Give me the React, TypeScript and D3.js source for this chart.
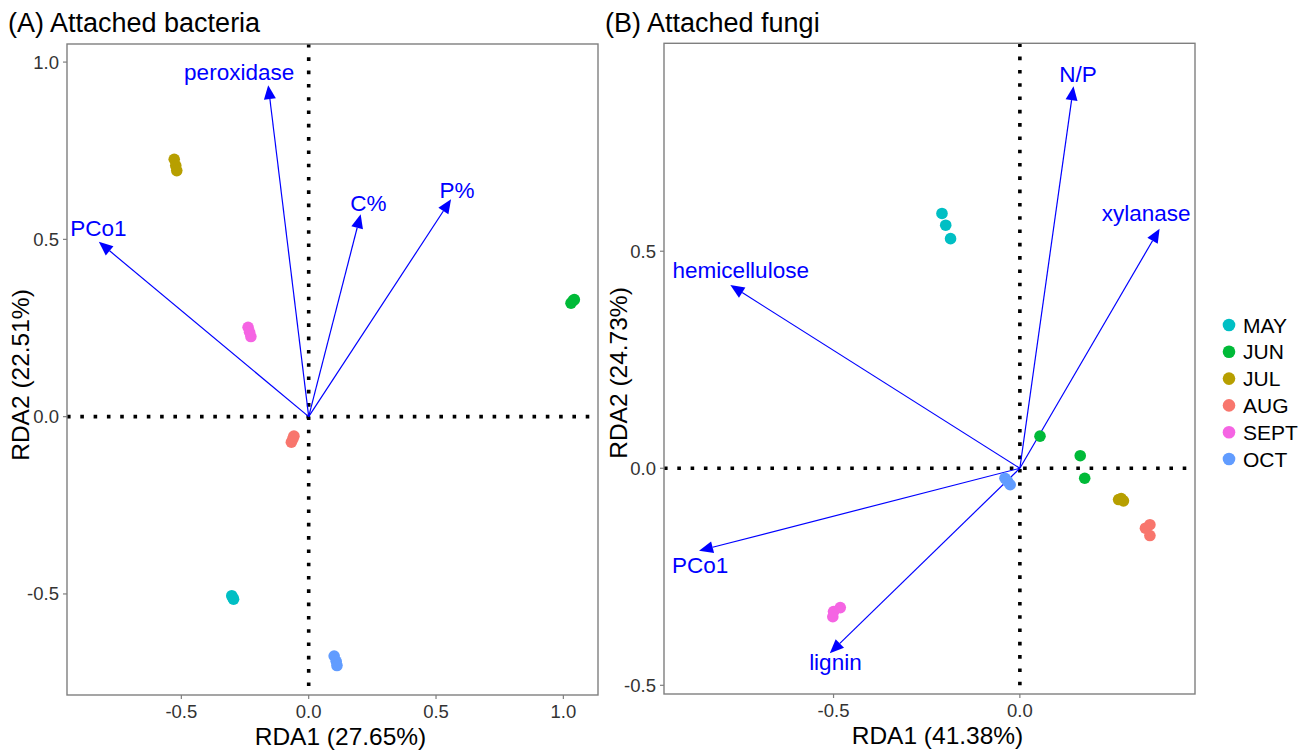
import * as d3 from "d3";

const months = ["MAY", "JUN", "JUL", "AUG", "SEPT", "OCT"];
const monthColors = ["#00BFC4", "#00BA38", "#B79F00", "#F8766D", "#F564E3", "#619CFF"];

// (A) attached bacteria – site scores
const bacMonth = ["MAY", "MAY", "MAY", "JUN", "JUN", "JUN", "JUL", "JUL", "JUL", "AUG", "AUG", "AUG", "SEPT", "SEPT", "SEPT", "OCT", "OCT", "OCT"];
const bacRDA1 = [-0.302, -0.297, -0.295, 1.03, 1.038, 1.043, -0.528, -0.522, -0.518, -0.068, -0.062, -0.058, -0.238, -0.232, -0.227, 0.1, 0.108, 0.111];
const bacRDA2 = [-0.505, -0.512, -0.515, 0.32, 0.327, 0.33, 0.726, 0.708, 0.694, -0.072, -0.062, -0.055, 0.252, 0.238, 0.226, -0.675, -0.69, -0.702];

// (A) environmental arrows
const bacVars = ["peroxidase", "C%", "P%", "PCo1"];
const bacArrowX = [-0.159, 0.204, 0.559, -0.824];
const bacArrowY = [0.935, 0.571, 0.613, 0.493];
const bacLabelX = [-0.273, 0.234, 0.582, -0.826];
const bacLabelY = [0.971, 0.602, 0.637, 0.531];

// (B) attached fungi – site scores
const funMonth = ["MAY", "MAY", "MAY", "JUN", "JUN", "JUN", "JUL", "JUL", "JUL", "AUG", "AUG", "AUG", "SEPT", "SEPT", "SEPT", "OCT", "OCT", "OCT"];
const funRDA1 = [-0.209, -0.199, -0.186, 0.054, 0.162, 0.174, 0.265, 0.272, 0.278, 0.349, 0.337, 0.349, -0.5, -0.482, -0.502, -0.04, -0.033, -0.026];
const funRDA2 = [0.587, 0.56, 0.529, 0.074, 0.029, -0.023, -0.072, -0.07, -0.075, -0.13, -0.138, -0.155, -0.33, -0.321, -0.342, -0.023, -0.03, -0.038];

// (B) environmental arrows
const funVars = ["N/P", "xylanase", "hemicellulose", "PCo1", "lignin"];
const funArrowX = [0.144, 0.375, -0.777, -0.861, -0.51];
const funArrowY = [0.88, 0.552, 0.422, -0.19, -0.426];
const funLabelX = [0.156, 0.339, -0.749, -0.858, -0.495];
const funLabelY = [0.908, 0.588, 0.455, -0.224, -0.447];

const bacXTicks = [-0.5, 0, 0.5, 1.0];
const bacYTicks = [-0.5, 0, 0.5, 1.0];
const funXTicks = [-0.5, 0];
const funYTicks = [-0.5, 0, 0.5];

const font = "'Liberation Sans', Arial, Helvetica, sans-serif";
const fmt = (v: number) => d3.format(".1f")(v).replace("\u2212", "-");
const color = d3.scaleOrdinal<string, string>().domain(months).range(monthColors);

interface PanelProps {
  title: string;
  xTitle: string;
  yTitle: string;
  left: number;
  right: number;
  top: number;
  bottom: number;
  xDomain: [number, number];
  yDomain: [number, number];
  xTicks: number[];
  yTicks: number[];
  month: string[];
  px: number[];
  py: number[];
  vars: string[];
  ax: number[];
  ay: number[];
  lx: number[];
  ly: number[];
  yTitleX: number;
  yTitleY: number;
}

function Panel(p: PanelProps) {
  const x = d3.scaleLinear().domain(p.xDomain).range([p.left, p.right]);
  const y = d3.scaleLinear().domain(p.yDomain).range([p.bottom, p.top]);
  const x0 = x(0);
  const y0 = y(0);
  const head = 14;
  const halfW = 6;

  return (
    <g fontFamily={font}>
      <text x={p.left - 59} y={31.5} fontSize={27} fill="#000">{p.title}</text>

      {/* reference lines */}
      <line x1={p.left} x2={p.right} y1={y0} y2={y0} stroke="#000" strokeWidth={3.6} strokeDasharray="3.6 9.7" />
      <line x1={x0} x2={x0} y1={p.top} y2={p.bottom} stroke="#000" strokeWidth={3.6} strokeDasharray="3.6 9.7" />

      {/* arrows */}
      {p.vars.map((v, i) => {
        const tx = x(p.ax[i]);
        const ty = y(p.ay[i]);
        const ang = Math.atan2(ty - y0, tx - x0);
        const bx = tx - head * Math.cos(ang);
        const by = ty - head * Math.sin(ang);
        const nx = -Math.sin(ang) * halfW;
        const ny = Math.cos(ang) * halfW;
        return (
          <g key={v}>
            <line x1={x0} y1={y0} x2={bx} y2={by} stroke="#0000FF" strokeWidth={1.2} />
            <path d={`M${tx},${ty}L${bx + nx},${by + ny}L${bx - nx},${by - ny}Z`} fill="#0000FF" />
            <text x={x(p.lx[i])} y={y(p.ly[i])} fontSize={22.5} fill="#0000FF" textAnchor="middle" dominantBaseline="central">{v}</text>
          </g>
        );
      })}

      {/* site points */}
      {p.month.map((m, i) => (
        <circle key={i} cx={x(p.px[i])} cy={y(p.py[i])} r={5.8} fill={color(m)} />
      ))}

      <rect x={p.left} y={p.top} width={p.right - p.left} height={p.bottom - p.top} fill="none" stroke="#7F7F7F" strokeWidth={1.4} />

      {/* axes */}
      {p.xTicks.map((t) => (
        <g key={"x" + t}>
          <line x1={x(t)} x2={x(t)} y1={p.bottom} y2={p.bottom + 4} stroke="#7F7F7F" strokeWidth={1.2} />
          <text x={x(t)} y={p.bottom + 23} fontSize={18.5} fill="#333" textAnchor="middle">{fmt(t)}</text>
        </g>
      ))}
      {p.yTicks.map((t) => (
        <g key={"y" + t}>
          <line x1={p.left - 4} x2={p.left} y1={y(t)} y2={y(t)} stroke="#7F7F7F" strokeWidth={1.2} />
          <text x={p.left - 8} y={y(t)} fontSize={18.5} fill="#333" textAnchor="end" dominantBaseline="central">{fmt(t)}</text>
        </g>
      ))}
      <text x={(p.left + p.right) / 2 + 8} y={p.bottom + 50} fontSize={24.5} fill="#000" textAnchor="middle">{p.xTitle}</text>
      <text transform={`translate(${p.yTitleX},${p.yTitleY}) rotate(-90)`} fontSize={24.5} fill="#000" textAnchor="middle">{p.yTitle}</text>
    </g>
  );
}

export default function App() {
  return (
    <svg width={1304} height={752} style={{ position: "absolute", left: 0, top: 0, background: "#fff" }}>
      <rect width={1304} height={752} fill="#fff" />
      <Panel
        title="(A) Attached bacteria"
        xTitle="RDA1 (27.65%)"
        yTitle="RDA2 (22.51%)"
        left={67}
        right={598}
        top={44}
        bottom={695}
        xDomain={[-0.949, 1.136]}
        yDomain={[-0.785, 1.051]}
        xTicks={bacXTicks}
        yTicks={bacYTicks}
        month={bacMonth}
        px={bacRDA1}
        py={bacRDA2}
        vars={bacVars}
        ax={bacArrowX}
        ay={bacArrowY}
        lx={bacLabelX}
        ly={bacLabelY}
        yTitleX={29}
        yTitleY={375}
      />
      <Panel
        title="(B) Attached fungi"
        xTitle="RDA1 (41.38%)"
        yTitle="RDA2 (24.73%)"
        left={664}
        right={1195}
        top={43.3}
        bottom={694}
        xDomain={[-0.955, 0.47]}
        yDomain={[-0.52, 0.979]}
        xTicks={funXTicks}
        yTicks={funYTicks}
        month={funMonth}
        px={funRDA1}
        py={funRDA2}
        vars={funVars}
        ax={funArrowX}
        ay={funArrowY}
        lx={funLabelX}
        ly={funLabelY}
        yTitleX={627}
        yTitleY={373}
      />
      <g fontFamily={font}>
        {months.map((m, i) => (
          <g key={m} transform={`translate(1229,${325 + i * 26.8})`}>
            <circle r={6.3} fill={color(m)} />
            <text x={14} fontSize={21} fill="#000" dominantBaseline="central">{m}</text>
          </g>
        ))}
      </g>
    </svg>
  );
}
